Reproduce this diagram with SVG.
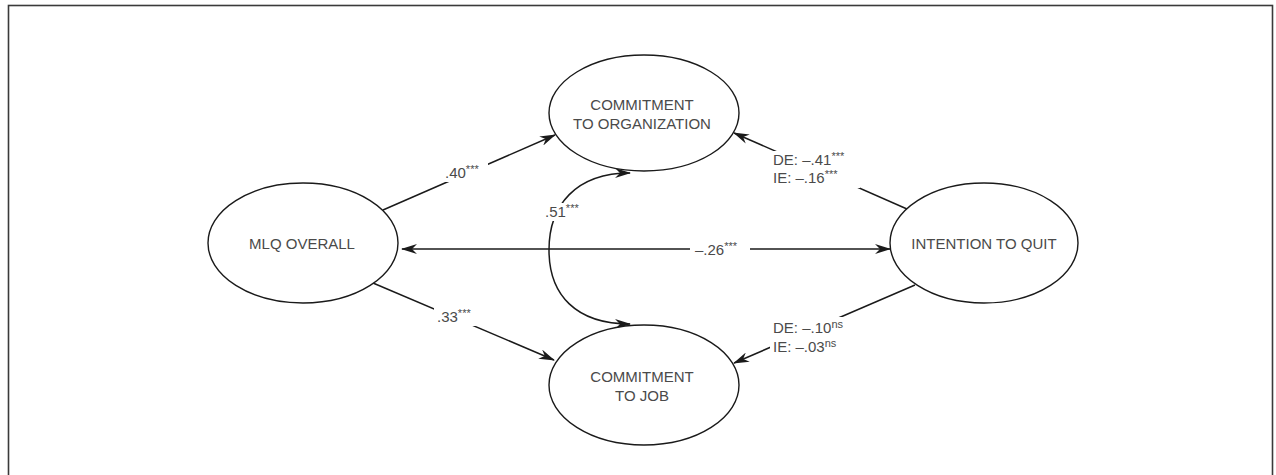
<svg xmlns="http://www.w3.org/2000/svg" width="1276" height="475" viewBox="0 0 1276 475">
<style>
.node{fill:#fff;stroke:#1a1a1a;stroke-width:1.4}
.lbl{font-family:"Liberation Sans",Arial,sans-serif;font-size:15px;fill:#4a4a4a}
.sup{font-size:11px}
.edge{fill:none;stroke:#1a1a1a;stroke-width:1.5}
.bg{fill:#fff}
</style>
<defs>
<marker id="ah" viewBox="0 0 16 10" refX="15" refY="5" markerWidth="16" markerHeight="10" markerUnits="userSpaceOnUse" orient="auto-start-reverse">
<path d="M0,0 L16,5 L0,10 L5,5 z" fill="#1a1a1a"/>
</marker>
</defs>
<rect x="0" y="0" width="1276" height="475" fill="#fff"/>
<rect x="8.5" y="5.5" width="1264" height="480" fill="none" stroke="#3a3a3a" stroke-width="1.6"/>

<g id="connectors">
<line class="edge" x1="383" y1="210" x2="555" y2="135" marker-end="url(#ah)"/>
<line class="edge" x1="373" y1="283" x2="554" y2="360" marker-end="url(#ah)"/>
<line class="edge" x1="402" y1="249" x2="890" y2="249" marker-start="url(#ah)" marker-end="url(#ah)"/>
<line class="edge" x1="907" y1="209" x2="734" y2="133" marker-end="url(#ah)"/>
<line class="edge" x1="915" y1="285" x2="734" y2="363" marker-end="url(#ah)"/>
<path class="edge" d="M630,173 C576,173 549,205 549,250 C549,295 576,324 630,324" marker-start="url(#ah)" marker-end="url(#ah)"/>
<rect class="bg" x="440" y="163" width="48" height="19"/>
<rect class="bg" x="434" y="307" width="48" height="19"/>
<rect class="bg" x="690" y="239" width="60" height="19"/>
<rect class="bg" x="543" y="203" width="42" height="18"/>
<rect class="bg" x="770" y="151" width="90" height="37"/>
<rect class="bg" x="770" y="317" width="86" height="38"/>
<text class="lbl" x="445" y="178">.40<tspan class="sup" dy="-5">***</tspan></text>
<text class="lbl" x="437" y="322">.33<tspan class="sup" dy="-5">***</tspan></text>
<text class="lbl" x="695" y="255">–.26<tspan class="sup" dy="-5">***</tspan></text>
<text class="lbl" x="545" y="217">.51<tspan class="sup" dy="-5">***</tspan></text>
<text class="lbl" x="773" y="165">DE: –.41<tspan class="sup" dy="-5">***</tspan></text>
<text class="lbl" x="773" y="183">IE: –.16<tspan class="sup" dy="-5">***</tspan></text>
<text class="lbl" x="773" y="333">DE: –.10<tspan class="sup" dy="-5">ns</tspan></text>
<text class="lbl" x="773" y="352">IE: –.03<tspan class="sup" dy="-5">ns</tspan></text>
</g>

<g id="mlq">
<ellipse class="node" cx="303" cy="243" rx="95" ry="60"/>
<text class="lbl" x="302" y="249" text-anchor="middle">MLQ OVERALL</text>
</g>
<g id="org">
<ellipse class="node" cx="644" cy="113" rx="95" ry="58"/>
<text class="lbl" x="642" y="110" text-anchor="middle">COMMITMENT</text>
<text class="lbl" x="642" y="129" text-anchor="middle">TO ORGANIZATION</text>
</g>
<g id="job">
<ellipse class="node" cx="644" cy="385" rx="95" ry="60"/>
<text class="lbl" x="642" y="382" text-anchor="middle">COMMITMENT</text>
<text class="lbl" x="642" y="401" text-anchor="middle">TO JOB</text>
</g>
<g id="quit">
<ellipse class="node" cx="984" cy="243" rx="94" ry="60"/>
<text class="lbl" x="984" y="249" text-anchor="middle">INTENTION TO QUIT</text>
</g>
</svg>
